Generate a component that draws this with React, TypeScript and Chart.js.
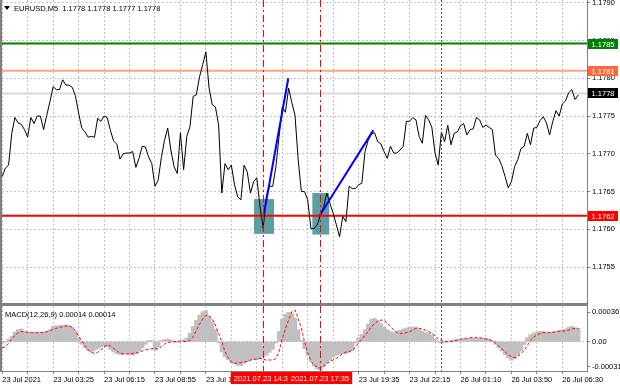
import React, { useEffect, useRef } from 'react';
import { Chart, registerables } from 'chart.js';
Chart.register(...registerables);

const FONT_FAMILY = '"Liberation Sans", Arial, sans-serif';
const FONT_SIZE = 7.5;
const FONT = `${FONT_SIZE}px ${FONT_FAMILY}`;

// ---- data -------------------------------------------------------------
const BAR_STEP = 2; // one sample every 2 M5 bars
const X_MIN = -0.13;
const X_MAX = 367.5;

const price = [
  1.1767, 1.17681, 1.17685, 1.17727, 1.17748, 1.17741, 1.17739, 1.17732, 1.17722, 1.17748,
  1.1774, 1.1775, 1.1775, 1.17732, 1.17751, 1.17769, 1.17789, 1.17785, 1.17785, 1.17798,
  1.17791, 1.17791, 1.17788, 1.17777, 1.17754, 1.17734, 1.17729, 1.17722, 1.17723, 1.17722,
  1.17747, 1.17743, 1.1775, 1.17748, 1.17731, 1.17717, 1.17713, 1.17693, 1.177, 1.17701,
  1.17701, 1.17703, 1.17682, 1.17694, 1.1771, 1.17709, 1.17696, 1.17687, 1.17657, 1.17665,
  1.17695, 1.17718, 1.17734, 1.17705, 1.17683, 1.17674, 1.17728, 1.17679, 1.17723, 1.17736,
  1.17776, 1.17778, 1.17802, 1.17818, 1.17835, 1.17787, 1.17765, 1.17762, 1.17738, 1.17648,
  1.17687, 1.17679, 1.17685, 1.17659, 1.17643, 1.17639, 1.17685, 1.17676, 1.17648, 1.17663,
  1.17668, 1.1763, 1.17601, 1.17643, 1.17657, 1.17657, 1.17683, 1.17723, 1.17762, 1.17755,
  1.17787, 1.17768, 1.17751, 1.17692, 1.1765, 1.1765, 1.17639, 1.17601, 1.17601, 1.17606,
  1.17619, 1.1763, 1.17648, 1.17634, 1.17621, 1.17606, 1.1759, 1.17617, 1.1761, 1.17657,
  1.17654, 1.17654, 1.17659, 1.17661, 1.17703, 1.17718, 1.17726, 1.17728, 1.17716, 1.17713,
  1.17703, 1.17694, 1.1771, 1.17701, 1.17701, 1.17705, 1.1771, 1.17743, 1.17743, 1.17748,
  1.17745, 1.17723, 1.17714, 1.17751, 1.17745, 1.17735, 1.17701, 1.17685, 1.17729, 1.17716,
  1.17738, 1.17712, 1.17727, 1.17729, 1.17737, 1.1774, 1.17725, 1.17732, 1.17733, 1.17748,
  1.17745, 1.17735, 1.17738, 1.17735, 1.17732, 1.17698, 1.17694, 1.17684, 1.1767, 1.17655,
  1.17663, 1.17683, 1.17692, 1.17707, 1.1771, 1.17727, 1.17712, 1.17734, 1.17735, 1.17744,
  1.17749, 1.17741, 1.17725, 1.17743, 1.17757, 1.1775, 1.17766, 1.1777, 1.17781, 1.17785,
  1.17772, 1.17778,
];

// MACD values in units of 0.0001
const macdHist = [
  -0.12, 0, 0.29, 0.61, 1.14, 1.43, 1.51, 1.22, 1.1, 1.14,
  1.1, 1.14, 1.1, 1.14, 1.22, 1.43, 1.84, 1.92, 1.92, 1.96,
  2.0, 1.92, 1.71, 1.22, 0.41, -0.29, -0.69, -1.02, -1.22, -1.02,
  -0.82, -0.61, -0.53, -0.61, -0.94, -1.22, -1.43, -1.51, -1.55, -1.43,
  -1.51, -1.63, -1.43, -1.1, -0.73, -0.29, 0.12, 0.12, -1.02, -0.61,
  0.12, 0.24, 0.29, 0.16, 0, -0.04, 0, 0.2, 0.41, 1.02,
  1.84, 2.57, 3.22, 3.63, 3.76, 3.06, 2.33, 1.43, -0.12, -1.22,
  -1.84, -2.16, -2.53, -2.69, -2.86, -2.9, -2.61, -2.41, -2.24, -2.16,
  -2.16, -2.04, -1.84, -1.63, -1.27, -0.9, -0.12, 1.22, 2.73, 3.35,
  3.55, 3.39, 2.86, 1.43, 0.12, -0.82, -1.63, -2.37, -2.94, -3.31,
  -3.47, -3.06, -2.61, -2.24, -1.84, -1.63, -1.51, -1.43, -1.43, -1.27,
  -1.06, -0.12, 0.45, 0.86, 1.43, 2.16, 2.69, 2.82, 2.57, 2.16,
  1.76, 1.43, 1.22, 1.1, 1.22, 1.35, 1.51, 1.63, 1.71, 1.76,
  1.76, 1.47, 1.27, 1.06, 1.02, 0.78, 0.29, 0, -0.12, -0.04,
  0, 0.12, 0.2, 0.2, 0.29, 0.29, 0.33, 0.37, 0.37, 0.41,
  0.41, 0.37, 0.41, 0.29, 0.08, -0.29, -0.69, -1.1, -1.55, -1.92,
  -2.24, -2.04, -1.63, -1.1, -0.29, 0.45, 0.82, 1.02, 1.14, 1.22,
  1.22, 1.14, 1.1, 1.18, 1.22, 1.31, 1.43, 1.51, 1.71, 1.84,
  1.67, 1.6,
];

const macdSignal = [
  -0.78, -0.61, -0.2, 0.29, 0.82, 1.1, 1.22, 1.22, 1.14, 1.1,
  1.1, 1.1, 1.1, 1.14, 1.22, 1.35, 1.51, 1.63, 1.76, 1.84,
  1.92, 1.92, 1.76, 1.31, 0.69, 0.12, -0.49, -1.02, -1.31, -1.43,
  -1.31, -1.02, -0.61, -0.41, -0.53, -0.82, -1.1, -1.43, -1.47, -1.51,
  -1.47, -1.43, -1.39, -1.27, -1.14, -1.02, -0.94, -0.86, -0.82, -0.9,
  -0.61, -0.29, -0.12, -0.04, 0, 0.04, 0.08, 0.04, 0, 0.2,
  0.61, 1.35, 2.16, 2.78, 3.22, 3.18, 2.73, 2.04, 1.02, 0,
  -1.22, -1.92, -2.45, -2.65, -2.61, -2.57, -2.49, -2.41, -2.24, -2.16,
  -2.12, -2.04, -2.16, -2.24, -2.24, -2.24, -2.08, -1.22, 0.41, 1.63,
  2.65, 3.67, 3.88, 2.86, 1.63, 0, -1.35, -2.37, -2.9, -3.1,
  -3.27, -2.98, -2.65, -2.45, -2.24, -2.04, -1.76, -1.47, -1.27, -1.22,
  -1.02, -0.69, -0.12, 0.29, 0.78, 1.22, 1.84, 2.2, 2.49, 2.65,
  2.61, 2.29, 1.88, 1.43, 1.14, 1.02, 1.02, 1.1, 1.22, 1.43,
  1.63, 1.63, 1.55, 1.43, 1.27, 1.02, 0.73, 0.33, 0.12, 0.04,
  0, 0, 0.08, 0.2, 0.29, 0.37, 0.41, 0.49, 0.53, 0.53,
  0.49, 0.41, 0.33, 0.24, 0.12, -0.16, -0.53, -0.9, -1.22, -1.59,
  -1.84, -1.96, -1.84, -1.47, -1.06, -0.49, 0.16, 0.57, 0.82, 1.02,
  1.1, 1.1, 1.1, 1.14, 1.18, 1.27, 1.31, 1.31, 1.43, 1.55,
  1.63, 1.64,
];

const PRICE_MIN = 1.175024;
const PRICE_MAX = 1.179037;
const priceTicks = [1.1755, 1.176, 1.1765, 1.177, 1.1775, 1.178, 1.1785, 1.179];

const MACD_MIN = -3.59;
const MACD_MAX = 4.37;
const macdTicks = [3.6, 0, -3.1];
const macdTickLabels = ['0.00036', '0.00', '-0.00031'];

const gridBars = [0, 16, 32, 48, 64, 80, 96, 112, 128, 144, 160, 176, 192, 208, 224, 240, 256, 272, 288, 304, 320, 336, 352];
const labelBars = [0, 32, 64, 96, 128, 160, 192, 224, 256, 288, 320, 352];
const timeLabels = [
  '23 Jul 2021', '23 Jul 03:25', '23 Jul 06:15', '23 Jul 08:55', '23 Jul 11:35', '23 Jul 14:15',
  '23 Jul 16:55', '23 Jul 19:35', '23 Jul 22:15', '26 Jul 01:10', '26 Jul 03:50', '26 Jul 06:30',
];

const levelPrices = [1.17846, 1.1781, 1.1778, 1.17618];
const levelTexts = ['1.1785', '1.1781', '1.1778', '1.1762'];
const levelLineColors = ['#008000', '#f7a68a', '#d8d8d8', '#ff0000'];
const levelBoxColors = ['#008000', '#ff6a3c', '#000000', '#ff0000'];

const trendFromBar = [164.5, 199.7];
const trendFromPrice = [1.17621, 1.17619];
const trendToBar = [179.8, 233.2];
const trendToPrice = [1.178, 1.17731];

const boxFromBar = [158.2, 194.9];
const boxToBar = [170.8, 205.5];
const boxTopPrice = [1.1764, 1.17648];
const boxBottomPrice = [1.17594, 1.17593];

const markerBars = [164.1, 199.7];
const markerLabels = ['2021.07.23 14:35', '2021.07.23 17:35'];
const separatorBar = 275.7;

const TITLE = 'EURUSD,M5  1.1778 1.1778 1.1777 1.1778';
const MACD_TITLE = 'MACD(12,26,9) 0.00014 0.00014';

// ---- helpers ----------------------------------------------------------
const GRID_COLOR = '#c4c4c4';
const AXIS_COLOR = '#808080';

function drawVerticals(ctx: CanvasRenderingContext2D, x: any, top: number, bottom: number) {
  ctx.save();
  ctx.lineWidth = 1;
  ctx.strokeStyle = '#505050';
  ctx.setLineDash([2, 2]);
  const sx = Math.round(x.getPixelForValue(separatorBar)) + 0.5;
  ctx.beginPath();
  ctx.moveTo(sx, top);
  ctx.lineTo(sx, bottom);
  ctx.stroke();
  ctx.strokeStyle = 'rgb(255,0,0)';
  ctx.setLineDash([7, 3, 2, 3]);
  for (const b of markerBars) {
    const px = Math.round(x.getPixelForValue(b)) + 0.5;
    ctx.beginPath();
    ctx.moveTo(px, top);
    ctx.lineTo(px, bottom);
    ctx.stroke();
  }
  ctx.restore();
}

const mainDecor = {
  id: 'mainDecor',
  beforeDatasetsDraw(chart: any) {
    const { ctx, scales } = chart;
    const x = scales.x, y = scales.y;
    ctx.save();
    ctx.fillStyle = '#5f9ea0';
    for (let k = 0; k < boxFromBar.length; k++) {
      const x0 = x.getPixelForValue(boxFromBar[k]);
      const x1 = x.getPixelForValue(boxToBar[k]);
      const y0 = y.getPixelForValue(boxTopPrice[k]);
      const y1 = y.getPixelForValue(boxBottomPrice[k]);
      ctx.fillRect(x0, y0, x1 - x0, y1 - y0);
    }
    ctx.restore();
  },
  afterDatasetsDraw(chart: any) {
    const { ctx, chartArea: a, scales } = chart;
    drawVerticals(ctx, scales.x, a.top, a.bottom);
  },
  afterDraw(chart: any) {
    const { ctx, chartArea: a, scales } = chart;
    const y = scales.y;
    ctx.save();
    ctx.font = FONT;
    ctx.textBaseline = 'middle';
    ctx.textAlign = 'center';
    for (let k = 0; k < levelPrices.length; k++) {
      const py = Math.round(y.getPixelForValue(levelPrices[k]));
      ctx.fillStyle = levelBoxColors[k];
      ctx.fillRect(a.right + 1, py - 5, 30, 10);
      ctx.fillStyle = '#ffffff';
      ctx.fillText(levelTexts[k], a.right + 16, py + 0.5);
    }
    ctx.textAlign = 'left';
    ctx.fillStyle = '#000';
    ctx.beginPath();
    ctx.moveTo(4, 6);
    ctx.lineTo(10, 6);
    ctx.lineTo(7, 10);
    ctx.closePath();
    ctx.fill();
    ctx.fillText(TITLE, 14, 8.5);
    ctx.fillStyle = AXIS_COLOR;
    ctx.fillRect(0, 0, 2, a.bottom);
    ctx.fillRect(0, a.bottom, a.right + 1, chart.height - a.bottom);
    ctx.restore();
  },
};

const macdDecor = {
  id: 'macdDecor',
  afterDatasetsDraw(chart: any) {
    const { ctx, chartArea: a, scales } = chart;
    drawVerticals(ctx, scales.x, a.top, a.bottom);
  },
  afterDraw(chart: any) {
    const { ctx, chartArea: a, scales } = chart;
    const x = scales.x;
    ctx.save();
    ctx.font = FONT;
    ctx.textBaseline = 'middle';
    ctx.textAlign = 'center';
    for (let k = 0; k < markerBars.length; k++) {
      const px = Math.round(x.getPixelForValue(markerBars[k]));
      const w = ctx.measureText(markerLabels[k]).width + 6;
      ctx.fillStyle = '#ff0000';
      ctx.fillRect(px - w / 2, a.bottom + 1, w, 12);
      ctx.fillStyle = '#ffffff';
      ctx.fillText(markerLabels[k], px, a.bottom + 7.5);
    }
    ctx.textAlign = 'left';
    ctx.fillStyle = '#000';
    ctx.fillText(MACD_TITLE, 5, 8.5);
    ctx.fillStyle = AXIS_COLOR;
    ctx.fillRect(0, 0, 2, a.bottom);
    ctx.fillRect(0, a.bottom, a.right + 1, 1);
    ctx.restore();
  },
};

function xScale(showLabels: boolean, height: number) {
  return {
    type: 'linear',
    min: X_MIN,
    max: X_MAX,
    offset: false,
    afterBuildTicks: (s: any) => {
      s.ticks = gridBars.map((v) => ({ value: v }));
    },
    afterFit: (s: any) => {
      s.height = height;
      s.paddingLeft = 0;
      s.paddingRight = 0;
    },
    ticks: {
      display: showLabels,
      autoSkip: false,
      maxRotation: 0,
      align: 'start',
      padding: 1,
      color: '#000',
      font: { family: FONT_FAMILY, size: FONT_SIZE },
      callback: (v: number) => {
        const k = labelBars.indexOf(v);
        return k >= 0 ? timeLabels[k] : '';
      },
    },
    grid: {
      offset: false,
      color: GRID_COLOR,
      lineWidth: 1,
      drawTicks: showLabels,
      tickLength: 3,
      tickColor: AXIS_COLOR,
    },
    border: { display: false, dash: [2, 2] },
  };
}

export default function App() {
  const mainRef = useRef<HTMLCanvasElement | null>(null);
  const macdRef = useRef<HTMLCanvasElement | null>(null);

  useEffect(() => {
    Chart.defaults.font.family = FONT_FAMILY;
    Chart.defaults.font.size = FONT_SIZE;

    const levelDatasets = levelPrices.map((p, k) => ({
      data: [{ x: X_MIN, y: p }, { x: X_MAX, y: p }],
      borderColor: levelLineColors[k],
      borderWidth: 2,
      pointRadius: 0,
      order: 3,
    }));
    const trendDatasets = trendFromBar.map((b, k) => ({
      data: [{ x: b, y: trendFromPrice[k] }, { x: trendToBar[k], y: trendToPrice[k] }],
      borderColor: '#0000ff',
      borderWidth: 2,
      pointRadius: 0,
      order: 0,
    }));

    const main = new Chart(mainRef.current as HTMLCanvasElement, {
      type: 'line',
      data: {
        datasets: [
          ...levelDatasets,
          {
            data: price.map((p, k) => ({ x: k * BAR_STEP, y: p })),
            borderColor: '#000000',
            borderWidth: 1,
            pointRadius: 0,
            tension: 0,
            order: 1,
          },
          ...trendDatasets,
        ] as any,
      },
      options: {
        animation: false,
        responsive: false,
        maintainAspectRatio: false,
        events: [],
        layout: { padding: { left: 2, right: 0, top: 0, bottom: 3 } },
        plugins: { legend: { display: false }, tooltip: { enabled: false } },
        scales: {
          x: xScale(false, 0) as any,
          y: {
            position: 'right',
            min: PRICE_MIN,
            max: PRICE_MAX,
            afterBuildTicks: (s: any) => {
              s.ticks = priceTicks.map((v) => ({ value: v }));
            },
            afterFit: (s: any) => {
              s.width = 33;
              s.paddingTop = 0;
              s.paddingBottom = 0;
            },
            ticks: {
              padding: 2,
              color: '#000',
              font: { family: FONT_FAMILY, size: FONT_SIZE },
              callback: (v: any) => Number(v).toFixed(4),
            },
            grid: { color: GRID_COLOR, tickColor: AXIS_COLOR, tickLength: 3, lineWidth: 1 },
            border: { display: true, color: AXIS_COLOR, dash: [2, 2] },
          } as any,
        },
      },
      plugins: [mainDecor],
    });

    const macd = new Chart(macdRef.current as HTMLCanvasElement, {
      type: 'bar',
      data: {
        datasets: [
          {
            type: 'line',
            data: macdSignal.map((v, k) => ({ x: k * BAR_STEP, y: v })),
            borderColor: '#ff0000',
            borderWidth: 1,
            borderDash: [3, 2],
            pointRadius: 0,
            order: 0,
          },
          {
            type: 'bar',
            data: macdHist.map((v, k) => ({ x: k * BAR_STEP, y: v })),
            backgroundColor: '#c0c0c0',
            borderWidth: 0,
            barPercentage: 1,
            categoryPercentage: 1,
            inflateAmount: 0.6,
            order: 1,
          },
        ] as any,
      },
      options: {
        animation: false,
        responsive: false,
        maintainAspectRatio: false,
        events: [],
        layout: { padding: { left: 2, right: 0, top: 0, bottom: 0 } },
        plugins: { legend: { display: false }, tooltip: { enabled: false } },
        scales: {
          x: xScale(true, 17) as any,
          y: {
            position: 'right',
            min: MACD_MIN,
            max: MACD_MAX,
            afterBuildTicks: (s: any) => {
              s.ticks = macdTicks.map((v) => ({ value: v }));
            },
            afterFit: (s: any) => {
              s.width = 33;
              s.paddingTop = 0;
              s.paddingBottom = 0;
            },
            ticks: {
              padding: 2,
              color: '#000',
              font: { family: FONT_FAMILY, size: FONT_SIZE },
              callback: (v: any) => {
                const k = macdTicks.indexOf(Number(v));
                return k >= 0 ? macdTickLabels[k] : '';
              },
            },
            grid: {
              color: (c: any) => (c.tick && c.tick.value === 0 ? GRID_COLOR : 'rgba(0,0,0,0)'),
              tickColor: AXIS_COLOR,
              tickLength: 3,
              lineWidth: 1,
            },
            border: { display: true, color: AXIS_COLOR, dash: [2, 2] },
          } as any,
        },
      },
      plugins: [macdDecor],
    });

    return () => {
      main.destroy();
      macd.destroy();
    };
  }, []);

  return (
    <div style={{ position: 'fixed', left: 0, top: 0, width: 620, height: 388, background: '#fff' }}>
      <canvas ref={mainRef} width={620} height={306} style={{ position: 'absolute', left: 0, top: 0, width: 620, height: 306 }} />
      <canvas ref={macdRef} width={620} height={82} style={{ position: 'absolute', left: 0, top: 306, width: 620, height: 82 }} />
    </div>
  );
}
